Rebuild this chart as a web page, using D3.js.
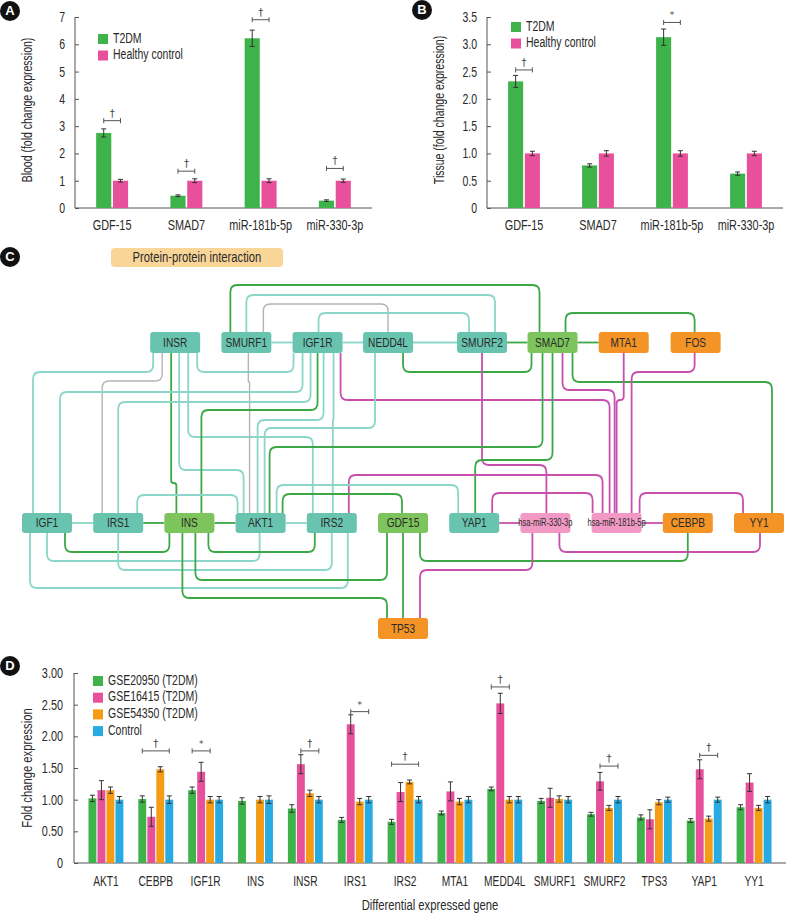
<!DOCTYPE html>
<html><head><meta charset="utf-8">
<script src="https://cdn.jsdelivr.net/npm/d3@7"></script>
<style>
body{margin:0;background:#fff;}
svg{display:block;font-family:"Liberation Sans",Arial,sans-serif;}
text{fill:#2a2a2a;}
text.sym{font-family:"DejaVu Sans","Noto Sans",sans-serif;fill:#444;}
</style></head><body>
<svg id="c" width="787" height="913"></svg>
<script>
// ---------- DATA ----------
const abCategories = ["GDF-15","SMAD7","miR-181b-5p","miR-330-3p"];
const abSeries = ["T2DM","Healthy control"];
const bloodT2DM = [2.75,0.45,6.22,0.27];
const bloodT2DMErr = [0.15,0.03,0.30,0.03];
const bloodHC = [1.0,1.0,1.0,1.0];
const bloodHCErr = [0.05,0.07,0.07,0.06];
const bloodTicks = [0,1,2,3,4,5,6,7];
const bloodSig = [[0,3.2,"†"],[1,1.35,"†"],[2,6.9,"†"],[3,1.45,"†"]];

const tissueT2DM = [2.32,0.78,3.13,0.63];
const tissueT2DMErr = [0.11,0.03,0.15,0.03];
const tissueHC = [1.0,1.0,1.0,1.0];
const tissueHCErr = [0.04,0.05,0.05,0.04];
const tissueTicks = [0,0.5,1.0,1.5,2.0,2.5,3.0,3.5];
const tissueSig = [[0,2.53,"†"],[2,3.4,"*"]];

const genes = ["AKT1","CEBPB","IGF1R","INS","INSR","IRS1","IRS2","MTA1","MEDD4L","SMURF1","SMURF2","TPS3","YAP1","YY1"];
const dSeries = ["GSE20950 (T2DM)","GSE16415 (T2DM)","GSE54350 (T2DM)","Control"];
const gse20950 = [1.02,1.01,1.15,0.98,0.86,0.68,0.65,0.79,1.17,0.98,0.77,0.72,0.67,0.88];
const gse20950Err = [0.05,0.05,0.05,0.05,0.06,0.04,0.04,0.03,0.03,0.04,0.03,0.04,0.03,0.04];
const gse16415 = [1.15,0.73,1.44,0,1.56,2.19,1.12,1.13,2.52,1.03,1.29,0.69,1.48,1.27];
const gse16415Err = [0.15,0.15,0.15,0,0.15,0.15,0.15,0.15,0.16,0.15,0.14,0.15,0.15,0.14];
const gse54350 = [1.15,1.48,1.0,1.0,1.10,0.97,1.28,0.97,1.0,1.01,0.87,0.96,0.70,0.87];
const gse54350Err = [0.05,0.04,0.05,0.05,0.05,0.05,0.03,0.05,0.05,0.05,0.04,0.04,0.04,0.04];
const control = [1,1,1,1,1,1,1,1,1,1,1,1,1,1];
const controlErr = [0.05,0.06,0.05,0.06,0.05,0.05,0.05,0.05,0.05,0.05,0.05,0.04,0.04,0.05];
const dTicks = [0,0.5,1.0,1.5,2.0,2.5,3.0];
// [gene index, from series, to series, level, symbol]
const dSig = [[1,0,3,1.77,"†"],[2,0,2,1.77,"*"],[4,1,3,1.77,"†"],[5,1,3,2.39,"*"],[6,0,3,1.56,"†"],[8,0,2,2.78,"†"],[10,1,3,1.53,"†"],[12,1,3,1.70,"†"]];

// network: nodes (name, type) and interactions (source, target, kind)
const topRowNodes = ["INSR","SMURF1","IGF1R","NEDD4L","SMURF2","SMAD7","MTA1","FOS"];
const bottomRowNodes = ["IGF1","IRS1","INS","AKT1","IRS2","GDF15","YAP1","hsa-miR-330-3p","hsa-miR-181b-5p","CEBPB","YY1"];
const extraNodes = ["TP53"];
const nodeType = {INSR:"p",SMURF1:"p",IGF1R:"p",NEDD4L:"p",SMURF2:"p",SMAD7:"d",MTA1:"t",FOS:"t",
  IGF1:"p",IRS1:"p",INS:"d",AKT1:"p",IRS2:"p",GDF15:"d",YAP1:"p","hsa-miR-330-3p":"m","hsa-miR-181b-5p":"m",CEBPB:"t",YY1:"t",TP53:"t"};
const interactions = [
 ["SMURF1","IGF1R","t"],["IGF1R","NEDD4L","t"],["NEDD4L","SMURF2","t"],["SMURF2","SMAD7","g"],["SMAD7","MTA1","g"],
 ["IGF1","IRS1","t"],["IRS1","INS","g"],["INS","AKT1","g"],["AKT1","IRS2","t"],["YAP1","hsa-miR-330-3p","p"],["hsa-miR-181b-5p","CEBPB","p"],
 ["SMURF1","SMAD7","g"],["SMURF1","SMURF2","t"],["SMURF1","NEDD4L","k"],["IGF1R","SMURF2","t"],["SMAD7","FOS","g"],
 ["INSR","IGF1R","t"],["NEDD4L","SMAD7","g"],
 ["INSR","IGF1","t"],["INSR","IRS1","k"],["INSR","INS","g"],["INSR","AKT1","t"],["INSR","IRS2","t"],["SMURF1","AKT1","k"],
 ["IGF1R","IGF1","t"],["IGF1R","IRS1","t"],["IGF1R","INS","g"],["IGF1R","AKT1","t"],["IGF1R","IRS2","t"],["IGF1R","hsa-miR-181b-5p","p"],
 ["NEDD4L","AKT1","t"],["SMURF2","hsa-miR-330-3p","p"],["SMAD7","AKT1","g"],["SMAD7","YAP1","g"],["SMAD7","hsa-miR-181b-5p","p"],
 ["SMAD7","YY1","g"],["MTA1","hsa-miR-181b-5p","p"],["FOS","hsa-miR-181b-5p","p"],
 ["IRS2","hsa-miR-181b-5p","p"],["AKT1","YAP1","t"],["AKT1","GDF15","g"],["IRS1","AKT1","t"],["YAP1","hsa-miR-181b-5p","p"],["hsa-miR-181b-5p","YY1","p"],
 ["IGF1","INS","g"],["IGF1","AKT1","t"],["IRS1","IRS2","t"],["IGF1","IRS2","t"],["INS","IRS2","g"],["INS","GDF15","g"],["INS","TP53","g"],
 ["GDF15","TP53","g"],["GDF15","CEBPB","g"],["hsa-miR-330-3p","TP53","p"],["hsa-miR-330-3p","YY1","p"]
];

// ---------- DRAWING ----------
const svg = d3.select("#c");
const C = {green:"#3db34a",pink:"#e9509b",orange:"#f59c14",blue:"#28abe2",axis:"#555",err:"#333"};

function badge(x,y,l){
  svg.append("circle").attr("cx",x).attr("cy",y).attr("r",10).attr("fill","#111");
  svg.append("text").attr("class","nc").attr("x",x).attr("y",y+0.5).attr("text-anchor","middle").attr("dominant-baseline","middle")
    .attr("font-weight","bold").attr("font-size",13).style("fill","#fff").text(l);
}
function errBar(g,x,y0,y1,cap){
  g.append("line").attr("x1",x).attr("x2",x).attr("y1",y0).attr("y2",y1).attr("stroke",C.err).attr("stroke-width",1);
  [y0,y1].forEach(y=>g.append("line").attr("x1",x-cap).attr("x2",x+cap).attr("y1",y).attr("y2",y).attr("stroke",C.err).attr("stroke-width",1));
}
function sigBracket(g,xa,xb,y,sym){
  g.append("line").attr("x1",xa).attr("x2",xb).attr("y1",y).attr("y2",y).attr("stroke","#555").attr("stroke-width",1);
  [xa,xb].forEach(x=>g.append("line").attr("x1",x).attr("x2",x).attr("y1",y-2.5).attr("y2",y+2.5).attr("stroke","#555").attr("stroke-width",1));
  g.append("text").attr("class","sym").attr("x",(xa+xb)/2).attr("y",y-4).attr("text-anchor","middle")
    .attr("font-size",sym==="*"?9:10).text(sym);
}

function panelAB(opts){
  const {x0,x1,ticks,max,vals,errs,hc,hcErr,sig,title,fmt,legX,legY} = opts;
  const y = d3.scaleLinear().domain([0,max]).range([208,17]);
  const x = d3.scaleBand().domain(abCategories).range([x0,x1]).paddingInner(0.57).paddingOuter(0.285);
  const xs = d3.scaleBand().domain(abSeries).range([0,x.bandwidth()]).paddingInner(0.1);
  const g = svg.append("g");
  const ax = g.append("g").attr("transform",`translate(${x0},0)`)
    .call(d3.axisLeft(y).tickValues(ticks).tickFormat(fmt).tickSize(-4).tickPadding(10));
  ax.attr("font-family",null);
  ax.select(".domain").remove();
  ax.selectAll(".tick line").attr("stroke",C.axis);
  ax.selectAll("text").attr("font-size",14).style("fill","#2a2a2a");
  g.append("line").attr("x1",x0).attr("x2",x0).attr("y1",17).attr("y2",208).attr("stroke",C.axis);
  g.append("line").attr("x1",x0).attr("x2",x1).attr("y1",208).attr("y2",208).attr("stroke",C.axis);
  const series = [[vals,errs,C.green],[hc,hcErr,C.pink]];
  series.forEach(([v,e,col],si)=>{
    abCategories.forEach((cat,i)=>{
      const bx = x(cat)+xs(abSeries[si]);
      g.append("rect").attr("x",bx).attr("y",y(v[i])).attr("width",xs.bandwidth()).attr("height",y(0)-y(v[i])).attr("fill",col);
      errBar(g,bx+xs.bandwidth()/2,y(v[i]+e[i]),y(v[i]-e[i]),2.5);
    });
  });
  sig.forEach(([ci,lv,sym])=>{
    const c=abCategories[ci];
    sigBracket(g,x(c)+xs(abSeries[0])+xs.bandwidth()/2,x(c)+xs(abSeries[1])+xs.bandwidth()/2,y(lv),sym);
  });
  abCategories.forEach(c=>g.append("text").attr("x",x(c)+x.bandwidth()/2).attr("y",230).attr("text-anchor","middle").attr("font-size",14.5).text(c));
  g.append("text").attr("transform",`translate(${x0-43},${110}) rotate(-90)`).attr("text-anchor","middle").attr("font-size",14).text(title);
  [C.green,C.pink].forEach((col,i)=>{
    g.append("rect").attr("x",legX).attr("y",legY+i*16.5).attr("width",10).attr("height",10).attr("fill",col);
    g.append("text").attr("x",legX+15).attr("y",legY+i*16.5+5).attr("dominant-baseline","middle").attr("font-size",14).text(abSeries[i]);
  });
}
panelAB({x0:75,x1:372,ticks:bloodTicks,max:7,vals:bloodT2DM,errs:bloodT2DMErr,hc:bloodHC,hcErr:bloodHCErr,sig:bloodSig,
  title:"Blood (fold change expression)",fmt:d3.format("d"),legX:98,legY:34});
panelAB({x0:487,x1:783,ticks:tissueTicks,max:3.5,vals:tissueT2DM,errs:tissueT2DMErr,hc:tissueHC,hcErr:tissueHCErr,sig:tissueSig,
  title:"Tissue (fold change expression)",fmt:d=>d===0?"0":d3.format(".1f")(d),legX:511,legY:22});
badge(10,11,"A"); badge(422,10,"B");

// ---------- PANEL C : network ----------
badge(10,257,"C");
svg.append("rect").attr("x",111).attr("y",248).attr("width",172).attr("height",19).attr("rx",4).attr("fill","#f9d698");
svg.append("text").attr("x",197).attr("y",258).attr("text-anchor","middle").attr("dominant-baseline","middle").attr("font-size",15).text("Protein-protein interaction");

const slot = d3.scaleLinear().domain([0,1]).range([22,93.2]);
const nodeW=50;
const topSlots=[1.8,2.8,3.8,4.79,6.11,7.1,8.1,9.11];
const pos={};
topRowNodes.forEach((n,i)=>pos[n]={x:slot(topSlots[i]),y:332});
bottomRowNodes.forEach((n,i)=>pos[n]={x:slot(i),y:513});
pos.TP53={x:slot(5),y:618};
const edgeCol={t:"#8bd6c8",g:"#3aa845",p:"#c84fab",k:"#b4b4b4"};
const nodeCol={p:"#68c4af",d:"#7cc45b",t:"#f49326",m:"#f29ac5"};

// routing layout for each interaction (same order): "h" = side by side, else [srcPortOffset, srcSide, tgtPortOffset, tgtSide, laneY]
const routes = [
 "h","h","h","h","h","h","h","h","h","h","h",
 [9,"t",12,"t",285],[25,"t",38,"t",295],[42,"t",25,"t",304],[26,"t",12,"t",313],[38,"t",24,"t",313],
 [47,"b",1,"b",372],[40,"b",4,"b",372],
 [3,"b",11,"t",372],[12,"b",9,"t",381],[21,"b",12,"t",483],[29,"b",8,"t",470],[38,"b",6,"t",437],[27,"b",14,"t",382],
 [10,"b",38,"t",392],[18,"b",25,"t",402],[25,"b",37,"t",410],[31,"b",22,"t",420],[41,"b",26,"t",420],[48,"b",18,"t",400],
 [12,"b",29,"t",428],[25,"b",26,"t",465],[15,"b",34,"t",447],[25,"b",26,"t",460],[35,"b",23,"t",390],
 [45,"b",38,"t",382],[25,"b",25,"t",400],[24,"b",40,"t",372],
 [42,"t",11,"t",475],[41,"t",9,"t",485],[47,"t",24,"t",494],[44,"t",2,"t",495],[43,"t",1,"t",493],[48,"t",9,"t",493],
 [43,"b",5,"b",552],[25,"b",24,"b",561],[25,"b",25,"b",570],[8,"b",41,"b",588],[44,"b",8,"b",552],[31,"b",9,"b",580],[18,"b",9,"t",598],
 [25,"b",25,"t",600],[42,"b",25,"b",561],[12,"b",42,"t",570],[39,"b",26,"b",552]
];
function nh(n){return pos[n].y===513?20:21;}
function rounded(pts,r){
  let d=`M${pts[0][0]},${pts[0][1]}`;
  for(let i=1;i<pts.length-1;i++){
    const [x0,y0]=pts[i-1],[x1,y1]=pts[i],[x2,y2]=pts[i+1];
    const l1=Math.hypot(x1-x0,y1-y0), l2=Math.hypot(x2-x1,y2-y1);
    if(l1<0.01||l2<0.01){continue;}
    const rr=Math.min(r,l1/2,l2/2);
    const ax=x1-(x1-x0)/l1*rr, ay=y1-(y1-y0)/l1*rr, bx=x1+(x2-x1)/l2*rr, by=y1+(y2-y1)/l2*rr;
    d+=`L${ax},${ay}Q${x1},${y1} ${bx},${by}`;
  }
  const L=pts[pts.length-1]; d+=`L${L[0]},${L[1]}`;
  return d;
}
const eg = svg.append("g").attr("fill","none").attr("stroke-width",1.8);
interactions.forEach(([s,t,k],i)=>{
  const r=routes[i], S=pos[s], T=pos[t];
  let d;
  if(r==="h"){
    const yy=S.y+nh(s)/2;
    d=`M${S.x+nodeW},${yy}L${T.x},${yy}`;
  } else {
    const [so,ss,to,ts,lane]=r;
    const sx=S.x+so, tx=T.x+to;
    const sy= ss==="t"?S.y:S.y+nh(s);
    const ty= ts==="t"?T.y:T.y+nh(t);
    d = Math.abs(sx-tx)<0.5 ? `M${sx},${sy}L${tx},${ty}` : rounded([[sx,sy],[sx,lane],[tx,lane],[tx,ty]],7);
  }
  eg.append("path").attr("d",d).attr("stroke",edgeCol[k]).attr("stroke-width",k==="k"?1.4:1.8);
});
const ng = svg.append("g");
Object.keys(pos).forEach(n=>{
  const p=pos[n];
  ng.append("rect").attr("x",p.x).attr("y",p.y).attr("width",nodeW).attr("height",nh(n)).attr("rx",3).attr("fill",nodeCol[nodeType[n]]);
  const isMir=n.startsWith("hsa");
  ng.append("text").attr("class",isMir?"mir":null).attr("x",p.x+nodeW/2).attr("y",p.y+nh(n)/2+0.5).attr("text-anchor","middle").attr("dominant-baseline","middle")
    .attr("font-size",isMir?10.5:13.5).text(n);
});

// ---------- PANEL D ----------
badge(10,666,"D");
const yD = d3.scaleLinear().domain([0,3]).range([863,673]);
const xD = d3.scaleBand().domain(genes).range([81,779]).paddingInner(0.3).paddingOuter(0.15);
const xDs = d3.scaleBand().domain(dSeries).range([0,xD.bandwidth()]).paddingInner(0.12);
const dg = svg.append("g");
const axD = dg.append("g").attr("transform","translate(74,0)")
  .call(d3.axisLeft(yD).tickValues(dTicks).tickFormat(d=>d===0?"0":d3.format(".2f")(d)).tickSize(-4).tickPadding(11));
axD.attr("font-family",null);
axD.select(".domain").remove();
axD.selectAll(".tick line").attr("stroke",C.axis);
axD.selectAll("text").attr("font-size",14.5).style("fill","#2a2a2a");
dg.append("line").attr("x1",74).attr("x2",74).attr("y1",673).attr("y2",863).attr("stroke",C.axis);
dg.append("line").attr("x1",74).attr("x2",786).attr("y1",863).attr("y2",863).attr("stroke",C.axis);
const dData=[[gse20950,gse20950Err,C.green],[gse16415,gse16415Err,C.pink],[gse54350,gse54350Err,C.orange],[control,controlErr,C.blue]];
dData.forEach(([v,e,col],si)=>{
  genes.forEach((gname,i)=>{
    if(v[i]<=0) return;
    const bx=xD(gname)+xDs(dSeries[si]);
    dg.append("rect").attr("x",bx).attr("y",yD(v[i])).attr("width",xDs.bandwidth()).attr("height",yD(0)-yD(v[i])).attr("fill",col);
    errBar(dg,bx+xDs.bandwidth()/2,yD(v[i]+e[i]),yD(v[i]-e[i]),2.5);
  });
});
dSig.forEach(([gi,a,b,lv,sym])=>{
  const gname=genes[gi];
  sigBracket(dg,xD(gname)+xDs(dSeries[a])+xDs.bandwidth()/2,xD(gname)+xDs(dSeries[b])+xDs.bandwidth()/2,yD(lv),sym);
});
genes.forEach(gname=>dg.append("text").attr("class","gl").attr("x",xD(gname)+xD.bandwidth()/2).attr("y",886).attr("text-anchor","middle").attr("font-size",14).text(gname));
dg.append("text").attr("x",430).attr("y",910).attr("text-anchor","middle").attr("font-size",15).text("Differential expressed gene");
dg.append("text").attr("transform","translate(32,768) rotate(-90)").attr("text-anchor","middle").attr("font-size",15).text("Fold change expression");
[C.green,C.pink,C.orange,C.blue].forEach((col,i)=>{
  dg.append("rect").attr("x",93).attr("y",676+i*16.7).attr("width",10).attr("height",10).attr("fill",col);
  dg.append("text").attr("x",108).attr("y",681+i*16.7).attr("dominant-baseline","middle").attr("font-size",14).text(dSeries[i]);
});

// condensed look: compress glyphs horizontally about each text's anchor (narrow typeface emulation)
function condense(sel,f){
  sel.each(function(){
    const t=this.getAttribute("transform")||"";
    const x=+(this.getAttribute("x")||0);
    this.setAttribute("transform",`${t} translate(${x},0) scale(${f},1) translate(${-x},0)`.trim());
  });
}
condense(svg.selectAll("text:not(.nc):not(.mir):not(.gl):not(.sym)"),0.75);
condense(svg.selectAll("text.gl"),0.73);
condense(svg.selectAll("text.mir"),0.72);
</script></body></html>
